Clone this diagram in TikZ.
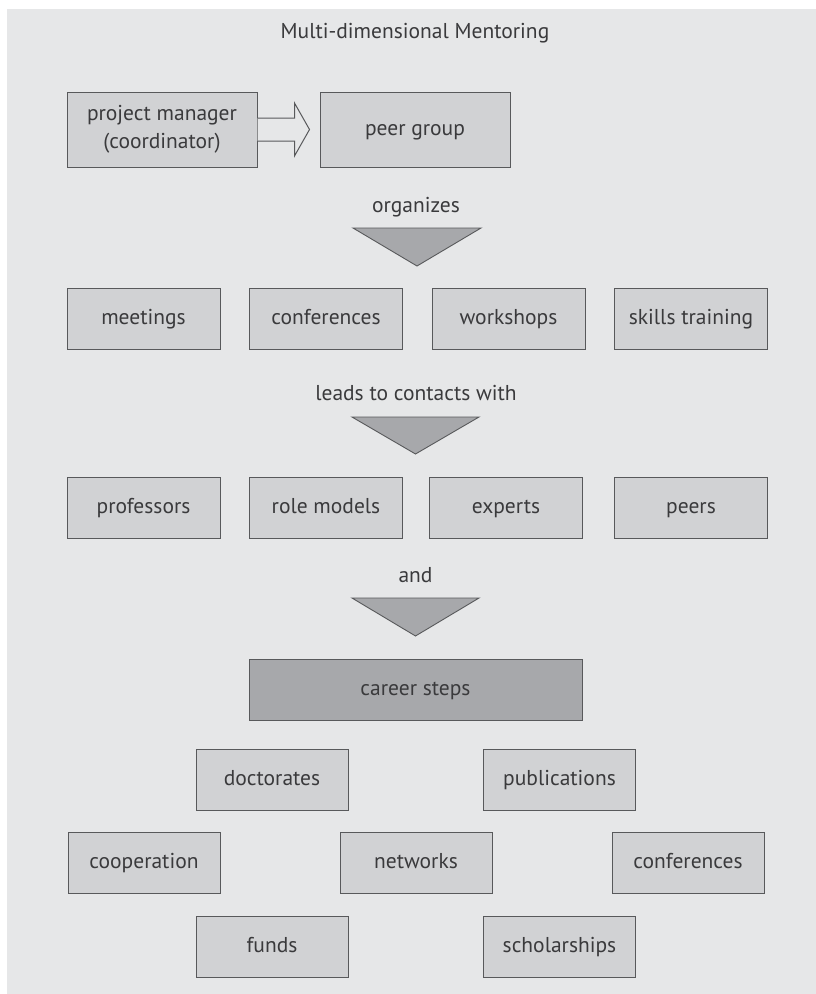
\documentclass[tikz,border=0pt]{standalone}
\usepackage{fontspec}
\setmainfont{PT Sans}
\usetikzlibrary{calc}
\definecolor{bgc}{HTML}{E6E7E8}
\definecolor{boxc}{HTML}{D1D2D4}
\definecolor{darkc}{HTML}{A7A8AB}
\definecolor{linec}{HTML}{58595B}
\definecolor{txtc}{HTML}{3A3A3C}
\tikzset{
  every node/.style={text=txtc, font=\fontsize{21.5}{28}\selectfont},
  boxn/.style={draw=linec, line width=1pt, fill=boxc, minimum width=153pt, minimum height=61pt, inner sep=0pt, align=center, text height=15pt, text depth=4pt},
  darkbox/.style={boxn, fill=darkc, minimum width=333pt},
  lbl/.style={inner sep=0pt, text height=15pt, text depth=4pt},
  tri/.style={draw=linec, line width=0.9pt, fill=darkc},
  blockarrow/.style={draw=linec, line width=1pt}
}
\begin{document}
\begin{tikzpicture}[x=1pt,y=-1pt]
\useasboundingbox (0,0) rectangle (816,994);
\fill[bgc] (7,9) rectangle (816,994);
\node[lbl] (title) at (415,33) {Multi-dimensional Mentoring};
\node[boxn, minimum width=190pt, minimum height=75pt, text height=, text depth=] (pm) at (162,129.5) {project manager\\(coordinator)};
\node[boxn, minimum width=190pt, minimum height=75pt] (peer) at (415,129.5) {peer group};
% block arrow
\fill[bgc] ($(pm.east)+(0,-11.5)$) -- ($(pm.east)+(37,-11.5)$) -- ($(pm.east)+(37,-26.5)$) -- ($(peer.west)+(-10,0)$) -- ($(pm.east)+(37,26.5)$) -- ($(pm.east)+(37,11.5)$) -- ($(pm.east)+(0,11.5)$) -- cycle;
\draw[blockarrow, line join=miter] ($(pm.east)+(0,-11.5)$) -- ($(pm.east)+(37,-11.5)$) -- ($(pm.east)+(37,-26.5)$) -- ($(peer.west)+(-10,0)$) -- ($(pm.east)+(37,26.5)$) -- ($(pm.east)+(37,11.5)$) -- ($(pm.east)+(0,11.5)$);
% organizes
\node[lbl] (org) at (416,207) {organizes};
\draw[tri] (353,228) coordinate (t1a) -- (481,228) coordinate (t1b) -- (417,266) coordinate (t1c) -- cycle;
\node[boxn] (meet) at (143.5,318.5) {meetings};
\node[boxn] (conf) at (326,318.5) {conferences};
\node[boxn] (work) at (508.5,318.5) {workshops};
\node[boxn] (skill) at (691,318.5) {skills training};
% leads to
\node[lbl] (leads) at (416,395) {leads to contacts with};
\draw[tri] (352,417) coordinate (t2a) -- (479,417) coordinate (t2b) -- (415.5,454) coordinate (t2c) -- cycle;
\node[boxn] (prof) at (143.5,507.5) {professors};
\node[boxn] (role) at (326,507.5) {role models};
\node[boxn] (exp) at (506,507.5) {experts};
\node[boxn] (peers) at (691,507.5) {peers};
% and
\node[lbl] (and) at (415.5,577) {and};
\draw[tri] (352,598) coordinate (t3a) -- (479,598) coordinate (t3b) -- (415.5,636) coordinate (t3c) -- cycle;
\node[darkbox] (career) at (415.5,689.5) {career steps};
% career steps items
\node[boxn, minimum width=152pt] (doc) at (272,779.5) {doctorates};
\node[boxn, minimum width=152pt] (pub) at (559.5,779.5) {publications};
\node[boxn, minimum width=152pt] (coop) at (144,863) {cooperation};
\node[boxn, minimum width=152pt] (net) at (416,863) {networks};
\node[boxn, minimum width=152pt] (conf2) at (688,863) {conferences};
\node[boxn, minimum width=152pt] (funds) at (272,946.5) {funds};
\node[boxn, minimum width=152pt] (schol) at (559.5,946.5) {scholarships};
\end{tikzpicture}
\end{document}
